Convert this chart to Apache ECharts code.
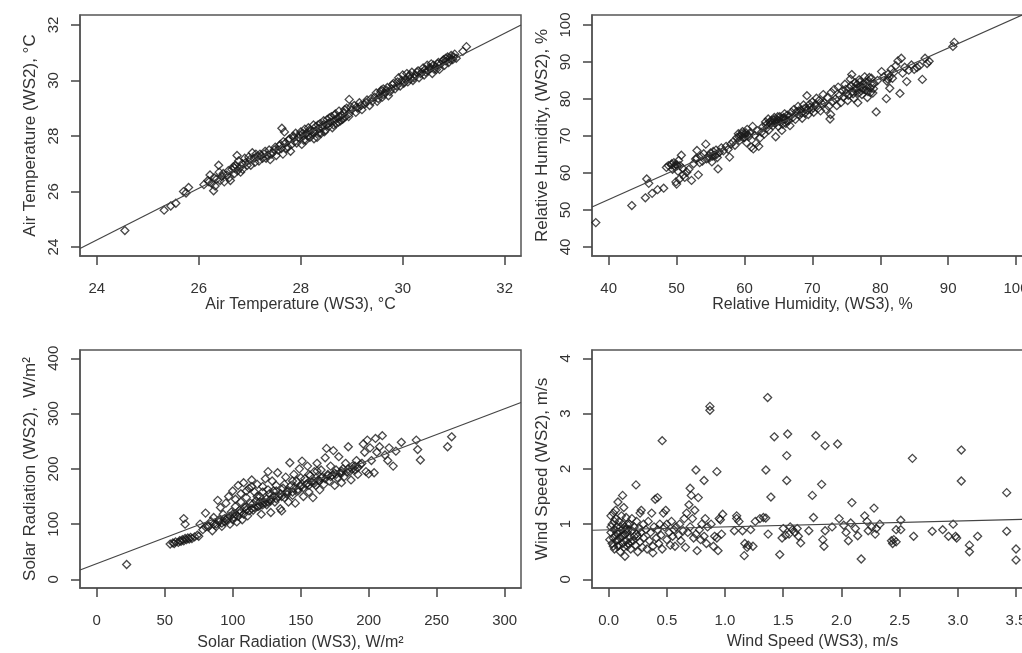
<!DOCTYPE html>
<html>
<head>
<meta charset="utf-8">
<script src="https://cdn.jsdelivr.net/npm/echarts@6/dist/echarts.min.js"></script>
<style>
  html, body { margin: 0; padding: 0; background: #fff; overflow: hidden; }
  #chart { width: 1022px; height: 653px; }
</style>
</head>
<body>
<div id="chart"></div>
<script>
// WS3 (x) vs WS2 (y) readings
var tempPoints = [
  [24.55,24.60],[25.32,25.33],[25.45,25.48],[25.55,25.58],[25.70,26.00],[25.80,26.15],[25.75,25.95],
  [26.10,26.25],[26.18,26.40],[26.22,26.60],[26.25,26.30],[26.29,26.03],[26.30,26.50],[26.35,26.45],[26.39,26.95],
  [26.40,26.70],[26.45,26.55],[26.50,26.35],[26.55,26.60],[26.60,26.50],[26.65,26.80],[26.68,26.90],[26.70,26.65],
  [26.72,26.95],[26.75,27.30],[26.78,27.10],[26.80,26.85],[26.82,26.70],[26.85,27.00],[26.90,27.20],[26.95,26.95],
  [27.00,27.15],[27.05,27.40],[27.10,27.05],[27.15,27.25],[27.20,27.35],[27.25,27.20],[27.30,27.45],[27.35,27.30],
  [27.40,27.15],[27.45,27.40],[27.50,27.60],[27.55,27.50],[27.60,27.70],[27.63,28.28],[27.68,28.15],[27.65,27.35],
  [27.70,27.75],[27.75,27.60],[27.78,27.90],[27.80,27.45],[27.85,28.00],[27.88,27.80],[27.90,28.10],[27.95,27.95],
  [28.00,28.15],[28.02,27.70],[28.05,28.00],[28.08,28.25],[28.10,27.85],[28.12,28.10],[28.15,28.30],[28.18,27.95],
  [28.20,28.20],[28.22,28.05],[28.25,28.40],[28.28,28.15],[28.30,28.35],[28.32,27.95],[28.35,28.25],[28.38,28.45],
  [28.40,28.10],[28.42,28.30],[28.45,28.55],[28.48,28.20],[28.50,28.40],[28.52,28.60],[28.55,28.35],[28.58,28.50],
  [28.60,28.70],[28.62,28.30],[28.65,28.55],[28.68,28.80],[28.70,28.45],[28.72,28.65],[28.75,28.90],[28.78,28.55],
  [28.80,28.75],[28.82,28.60],[28.85,28.85],[28.88,28.70],[28.90,29.00],[28.95,29.32],[28.95,28.80],[29.00,28.95],
  [29.05,29.10],[29.08,28.85],[29.10,29.05],[29.15,29.20],[29.20,28.95],[29.25,29.15],[29.30,29.30],[29.35,29.10],
  [29.40,29.25],[29.45,29.40],[29.50,29.25],[29.55,29.50],[29.58,29.65],[29.60,29.40],[29.62,29.70],[29.65,29.55],
  [29.70,29.75],[29.72,29.45],[29.75,29.60],[29.80,29.85],[29.85,29.70],[29.90,29.95],[29.92,30.10],[29.95,29.80],
  [30.00,30.20],[30.02,29.90],[30.05,30.05],[30.08,30.25],[30.10,29.95],[30.12,30.15],[30.15,30.05],[30.18,30.30],
  [30.20,30.00],[30.25,30.20],[30.30,30.35],[30.32,30.10],[30.35,30.25],[30.40,30.45],[30.42,30.20],[30.45,30.30],
  [30.48,30.55],[30.50,30.35],[30.55,30.45],[30.58,30.25],[30.60,30.55],[30.62,30.40],[30.65,30.50],[30.70,30.65],
  [30.72,30.40],[30.75,30.60],[30.80,30.75],[30.82,30.55],[30.85,30.70],[30.88,30.85],[30.90,30.65],[30.92,30.80],
  [30.95,30.90],[30.98,30.75],[31.00,30.85],[31.05,30.80],[31.25,31.22],[31.18,31.05],
  [26.20,26.35],[26.32,26.20],[26.42,26.40],[26.48,26.65],[26.58,26.75],[26.62,26.40],[26.70,26.85],[26.76,26.75],
  [26.86,26.80],[26.92,27.05],[26.98,27.25],[27.02,26.95],[27.08,27.20],[27.12,27.35],[27.18,27.10],[27.22,27.30],
  [27.28,27.35],[27.32,27.20],[27.38,27.50],[27.42,27.35],[27.48,27.50],[27.52,27.30],[27.58,27.65],[27.62,27.55],
  [27.66,27.80],[27.72,27.55],[27.76,27.85],[27.82,27.70],[27.86,27.95],[27.92,27.75],[27.98,28.05],[28.04,28.10],
  [28.06,27.85],[28.14,28.00],[28.16,28.20],[28.24,28.15],[28.26,27.90],[28.34,28.40],[28.36,28.10],[28.44,28.40],
  [28.46,28.15],[28.54,28.45],[28.56,28.65],[28.64,28.40],[28.66,28.75],[28.74,28.50],[28.76,28.70],[28.84,28.65],
  [28.86,28.95],[28.94,28.70],[28.98,29.05],[29.12,29.00],[29.18,29.10],[29.28,29.20],[29.38,29.35],[29.48,29.55],
  [29.52,29.35],[29.57,29.60],[29.63,29.50],[29.68,29.65],[29.78,29.70],[29.82,29.90],[29.88,29.80],[29.98,30.00],
  [30.04,29.95],[30.14,30.20],[30.22,30.10],[30.28,30.30],[30.38,30.30],[30.44,30.40],[30.52,30.45],[30.56,30.60],
  [30.66,30.40],[30.68,30.60],[30.78,30.70],[30.84,30.80],[30.94,30.75],[31.02,30.95]
];
var humPoints = [
  [38.1,46.6],[43.4,51.2],[45.4,53.3],[45.6,58.4],[46.4,54.5],[47.2,55.5],[48.1,55.9],[45.9,57.2],
  [48.5,61.5],[48.8,62.0],[49.2,62.2],[49.4,61.0],[49.6,62.8],[49.8,61.6],[50.0,62.3],[50.2,60.5],[50.3,63.4],
  [50.5,62.0],[50.7,64.8],[50.9,61.2],[51.0,59.5],[49.9,57.6],[50.0,57.0],[50.4,58.3],[51.2,58.8],[51.5,60.2],
  [51.8,61.0],[52.2,58.0],[52.5,62.5],[52.8,63.8],[53.0,66.1],[53.0,64.0],[53.2,59.5],[53.4,62.8],[53.6,64.5],
  [53.8,63.2],[54.0,65.2],[54.3,67.8],[54.4,63.8],[54.7,64.6],[55.0,65.4],[55.2,63.0],[55.4,65.8],[55.6,64.8],
  [55.8,66.2],[56.0,64.2],[56.1,61.1],[56.3,65.6],[56.6,66.8],[56.9,66.0],[57.3,67.2],[57.6,66.4],[57.8,64.3],
  [58.0,67.8],[58.3,68.4],[58.6,67.5],[58.9,69.6],[59.1,70.6],[59.3,68.8],[59.5,70.0],[59.7,71.2],[59.9,69.5],
  [60.1,70.4],[60.3,68.2],[60.4,71.8],[60.6,69.8],[60.8,70.8],[61.0,67.0],[61.2,72.6],[61.3,66.5],[61.5,70.2],
  [61.7,68.0],[61.9,71.4],[62.1,67.2],[62.3,69.5],[62.5,71.0],[62.7,72.5],[62.9,70.5],[63.1,73.8],[63.3,72.2],
  [63.5,74.6],[63.6,71.6],[63.8,73.2],[64.0,74.2],[64.2,72.8],[64.4,75.0],[64.5,73.5],[64.6,69.8],[64.8,74.4],
  [65.0,72.6],[65.2,75.2],[65.4,73.8],[65.5,71.5],[65.7,74.8],[65.9,76.0],[66.1,73.4],[66.3,75.6],[66.5,74.2],
  [66.7,72.8],[66.9,76.4],[67.1,75.0],[67.3,77.2],[67.5,74.5],[67.7,76.6],[67.9,78.0],[68.1,75.6],[68.3,77.0],
  [68.5,74.8],[68.7,78.4],[68.9,76.2],[69.1,77.6],[69.2,80.9],[69.4,75.8],[69.6,78.6],[69.8,77.0],[70.0,79.2],
  [70.2,76.4],[70.4,78.2],[70.6,80.2],[70.8,77.4],[71.0,79.6],[71.2,76.8],[71.4,78.8],[71.6,81.2],[71.8,79.0],
  [72.0,77.2],[72.2,80.4],[72.4,78.0],[72.6,74.6],[72.7,75.8],[72.8,81.8],[73.0,79.4],[73.2,82.6],[73.4,80.0],
  [73.6,78.2],[73.8,83.2],[74.0,81.0],[74.2,79.0],[74.4,82.2],[74.6,80.6],[74.8,84.0],[75.0,81.6],[75.2,79.6],
  [75.4,83.0],[75.6,85.4],[75.8,86.6],[75.9,82.0],[76.1,80.2],[76.3,84.4],[76.5,82.8],[76.7,79.0],[76.9,85.2],
  [77.1,83.4],[77.3,81.2],[77.5,84.0],[77.7,86.0],[77.9,82.4],[78.1,80.4],[78.3,84.8],[78.5,83.0],[78.7,85.6],
  [78.9,81.6],[79.1,84.2],[79.4,76.5],[79.6,85.0],[80.2,87.4],[80.5,86.0],[80.9,80.1],[81.0,84.8],[81.2,86.8],
  [81.4,82.9],[81.6,88.0],[81.8,85.6],[82.0,87.2],[82.3,89.0],[82.6,90.3],[82.9,81.5],[83.1,91.0],[83.3,87.0],
  [83.6,88.6],[83.9,84.7],[84.2,87.8],[84.6,89.2],[85.0,88.0],[85.4,88.5],[85.8,89.0],[86.2,85.3],[86.6,91.0],
  [86.9,89.6],[87.2,90.2],[90.7,94.2],[90.9,95.3],
  [49.3,62.5],[49.7,61.9],[50.1,62.0],[54.8,64.0],[55.3,64.6],[55.9,65.0],[59.2,69.8],[59.6,70.6],[60.0,69.6],
  [60.2,70.9],[60.5,70.2],[63.2,73.0],[63.7,73.8],[64.1,73.6],[64.3,74.4],[64.7,73.8],[64.9,75.2],[65.1,74.0],
  [65.3,74.6],[65.6,73.2],[65.8,75.0],[66.0,74.6],[66.2,74.0],[66.6,75.4],[68.0,76.8],[68.4,76.2],[68.8,77.4],
  [69.3,77.0],[69.7,77.8],[70.1,77.6],[70.5,78.6],[74.9,82.6],[75.3,81.0],[75.7,83.6],[76.0,81.4],[76.2,83.0],
  [76.4,82.2],[76.6,84.0],[76.8,81.6],[77.0,84.6],[77.2,82.2],[77.4,83.0],[77.6,82.6],[77.8,84.6],[78.0,83.6],
  [78.2,82.0],[78.4,85.8],[78.6,81.8],[78.8,83.8],[79.0,82.8],[81.1,85.4],[81.3,85.9]
];
var solarPoints = [
  [22,27],[54,64],[56,66],[57,65],[58,68],[60,67],[61,70],[62,69],[63,72],[64,70],[65,74],[66,72],[67,75],
  [68,73],[69,76],[70,74],[72,77],[74,80],[75,78],[64,110],[65,100],[76,100],[78,90],[80,95],
  [80,120],[82,98],[84,105],[85,88],[86,112],[88,100],[89,143],[90,108],[91,130],[92,96],[93,118],[94,104],
  [95,138],[96,110],[97,150],[98,100],[99,122],[100,160],[82,95],[86,100],[90,104],[94,110],[98,114],[102,118],
  [106,122],[110,126],[114,128],[118,132],[122,135],[126,140],
  [101,112],[102,145],[103,104],[104,170],[105,120],[106,155],[107,108],[108,175],[109,130],[110,148],[111,115],
  [112,165],[113,138],[114,180],[115,125],[116,158],[117,142],[118,172],[119,132],[120,150],[121,118],[122,168],
  [123,140],[124,182],[125,135],[126,195],[127,155],[128,145],[128,121],[129,178],[130,160],[131,140],[132,170],
  [133,193],[134,150],[135,128],[136,124],[137,165],[138,148],[139,185],[140,158],
  [100,118],[105,125],[110,132],[115,137],[120,140],[125,146],[130,150],[135,155],[140,160],[145,165],[150,170],
  [155,174],[160,178],[165,184],[170,188],[175,192],[180,196],[185,200],[190,205],[195,210],
  [141,140],[142,211],[143,170],[144,152],[145,190],[146,138],[147,178],[148,160],[149,200],[150,168],[151,214],
  [152,150],[153,182],[154,172],[155,205],[156,158],[157,188],[158,176],[159,148],[160,195],[161,170],[162,210],
  [163,180],[164,162],[165,198],[166,185],[167,172],[168,220],[169,237],[170,190],[171,178],[172,205],[173,188],
  [174,233],[175,170],[176,198],[177,184],[178,222],[179,192],[180,175],
  [181,200],[182,186],[183,210],[185,240],[186,195],[187,180],[188,205],[190,198],[191,215],[192,190],[194,208],
  [196,245],[197,230],[198,195],[199,252],[200,191],[201,238],[202,215],[204,193],[205,255],[206,230],[208,240],
  [210,260],[212,225],[214,215],[215,238],[218,205],[220,232],[224,248],[235,252],[236,235],[238,216],[258,240],
  [261,258],
  [88,96],[92,102],[96,106],[100,108],[104,114],[108,118],[112,124],[116,130],[120,134],[124,138],[128,142],
  [132,146],[136,150],[140,154],[144,158],[148,163],[152,166],[156,170],[160,174],[164,178],[168,182],[172,186],
  [176,190],[180,192],[184,194],[188,200],[192,202],[118,150],[122,158],[126,162],[132,160],[138,172],[144,178],
  [150,184],[156,190],[162,196],[110,160],[114,168],[106,140],[102,132]
];
var windPoints = [
  [0.02,0.85],[0.03,0.65],[0.03,1.0],[0.04,0.75],[0.04,1.2],[0.05,0.9],[0.05,0.55],[0.06,0.8],[0.06,1.1],
  [0.07,0.7],[0.07,0.95],[0.08,0.6],[0.08,1.4],[0.09,0.85],[0.09,1.05],[0.10,0.75],[0.10,0.5],[0.11,0.9],
  [0.11,1.15],[0.12,0.65],[0.12,1.0],[0.13,0.8],[0.13,1.3],[0.14,0.42],[0.14,0.95],[0.15,0.7],[0.15,1.12],
  [0.16,0.85],[0.16,0.6],[0.17,0.9],[0.18,1.0],[0.18,0.75],[0.19,0.55],[0.20,0.88],[0.20,1.1],[0.21,0.7],
  [0.22,0.95],[0.23,0.62],[0.24,0.82],[0.24,1.05],[0.25,0.5],[0.25,0.78],[0.26,0.92],[0.27,1.2],[0.27,0.68],
  [0.28,1.25],[0.28,0.85],[0.29,0.58],[0.30,1.0],[0.30,0.75],[0.12,1.52],[0.235,1.71],[0.06,1.25],[0.02,1.15],
  [0.04,0.6],[0.08,0.72],[0.10,0.95],[0.14,0.82],[0.19,0.68],[0.22,0.78],[0.01,0.72],[0.02,0.95],[0.07,0.85],
  [0.09,0.62],[0.11,0.78],[0.13,0.58],[0.15,0.9],[0.17,0.65],[0.05,1.05],[0.16,1.0],
  [0.32,0.9],[0.33,0.55],[0.34,1.05],[0.35,0.7],[0.36,0.85],[0.37,1.2],[0.38,0.6],[0.38,0.48],[0.39,0.95],
  [0.40,1.45],[0.41,0.75],[0.42,1.48],[0.42,0.9],[0.43,0.65],[0.44,1.0],[0.45,0.8],[0.46,2.51],[0.46,0.55],
  [0.47,1.2],[0.48,0.95],[0.49,1.25],[0.50,0.72],[0.50,1.0],[0.52,0.85],[0.53,0.62],[0.54,1.05],[0.55,0.78],
  [0.56,0.9],[0.57,0.6],[0.58,0.95],[0.60,0.8],[0.61,1.0],[0.62,0.7],[0.64,0.88],[0.65,1.1],[0.66,0.58],
  [0.67,1.2],[0.68,0.85],[0.69,1.35],[0.70,1.65],[0.70,0.95],[0.71,1.52],[0.72,1.1],[0.73,0.75],[0.74,1.25],
  [0.75,1.98],[0.75,0.82],[0.76,0.52],[0.77,1.48],[0.78,0.9],[0.79,0.72],[0.80,1.0],[0.82,1.79],[0.82,0.78],
  [0.83,1.1],[0.84,0.65],[0.85,0.95],[0.87,3.13],[0.87,3.06],[0.88,1.0],[0.90,0.6],[0.91,0.78],[0.93,1.95],
  [0.93,0.75],[0.94,0.52],[0.95,1.1],[0.96,1.08],[0.97,0.82],[0.98,1.18],
  [1.08,0.88],[1.10,1.15],[1.10,1.1],[1.12,1.05],[1.15,0.88],[1.17,0.65],[1.165,0.43],[1.19,0.58],[1.20,0.62],
  [1.22,0.9],[1.24,0.6],[1.26,1.05],[1.30,1.1],[1.33,1.12],[1.35,1.11],[1.351,1.98],[1.366,3.29],[1.37,0.82],
  [1.394,1.49],[1.423,2.58],[1.47,0.45],[1.49,0.75],[1.50,0.92],[1.53,2.24],[1.53,1.79],[1.538,2.63],[1.55,0.82],
  [1.58,0.9],[1.60,0.85],[1.62,0.92],[1.65,0.66],[1.72,0.88],[1.75,1.52],[1.76,1.12],[1.78,2.60],[1.83,1.72],
  [1.84,0.72],[1.85,0.60],[1.86,2.42],[1.86,0.88],[1.92,0.95],[1.967,2.45],[1.98,1.1],[1.52,0.8],[1.56,0.95],
  [1.63,0.78],
  [2.02,0.98],[2.04,0.85],[2.06,0.7],[2.08,1.02],[2.09,1.39],[2.12,0.92],[2.14,0.79],[2.17,0.37],[2.20,1.15],
  [2.22,1.05],[2.23,0.88],[2.26,0.95],[2.28,1.29],[2.29,0.82],[2.30,0.92],[2.33,1.0],[2.43,0.7],[2.44,0.65],
  [2.45,0.72],[2.47,0.68],[2.47,0.9],[2.51,1.07],[2.51,0.9],[2.61,2.19],[2.62,0.78],[2.78,0.87],[2.87,0.9],
  [2.92,0.78],[2.96,1.0],[2.98,0.78],[2.99,0.75],[3.03,2.34],[3.03,1.78],[3.10,0.62],[3.10,0.50],[3.17,0.78],
  [3.42,1.57],[3.42,0.87],[3.50,0.55],[3.50,0.35]
];

// fitted lines, endpoints read at the plot edges
var tempFit = [[23.67,23.95],[32.32,32.0]];
var humFit = [[37.54,50.8],[100.9,102.7]];
var solarFit = [[-12.3,17],[312,320]];
var windFit = [[-0.143,0.89],[3.646,1.09]];

// tick labels
var tempTicks = [24, 26, 28, 30, 32];
var humXTicks = [40, 50, 60, 70, 80, 90, 100];
var humYTicks = [40, 50, 60, 70, 80, 90, 100];
var solarXTicks = [0, 50, 100, 150, 200, 250, 300];
var solarYTicks = [0, 100, 200, 300, 400];
var windXTicks = [0, 0.5, 1, 1.5, 2, 2.5, 3, 3.5];
var windYTicks = [0, 1, 2, 3, 4];

var FONT = 'Liberation Sans';
var TXT = '#333';
var LINE = '#555';

function tickStyle(ticks) {
  return { show: true, length: 9, customValues: ticks, lineStyle: { color: '#444', width: 1.5 } };
}
function xAxis(grid, min, max, ticks, name, gap, fmt) {
  var a = {
    type: 'value', gridIndex: grid, min: min, max: max,
    name: name, nameLocation: 'middle', nameGap: gap,
    nameTextStyle: { fontFamily: FONT, fontSize: 16, color: TXT },
    axisLine: { show: true, onZero: false, lineStyle: { color: LINE, width: 1.5 } },
    axisTick: tickStyle(ticks),
    axisLabel: { customValues: ticks, margin: 25, fontFamily: FONT, fontSize: 15, color: TXT },
    splitLine: { show: false }
  };
  if (fmt) a.axisLabel.formatter = fmt;
  return a;
}
function yAxis(grid, min, max, ticks, name, gap) {
  return {
    type: 'value', gridIndex: grid, min: min, max: max,
    name: name, nameLocation: 'middle', nameGap: gap,
    nameTextStyle: { fontFamily: FONT, fontSize: 17, color: TXT },
    axisLine: { show: true, onZero: false, lineStyle: { color: LINE, width: 1.5 } },
    axisTick: tickStyle(ticks),
    axisLabel: { customValues: ticks, rotate: 90, margin: 19, fontFamily: FONT, fontSize: 15, color: TXT },
    splitLine: { show: false }
  };
}
function pts(idx, data) {
  return {
    type: 'scatter', xAxisIndex: idx, yAxisIndex: idx, data: data,
    symbol: 'diamond', symbolSize: 8, silent: true,
    itemStyle: { color: 'rgba(0,0,0,0)', borderColor: '#1a1a1a', borderWidth: 1.3 }
  };
}
function fit(idx, data) {
  return {
    type: 'line', xAxisIndex: idx, yAxisIndex: idx, data: data,
    symbol: 'none', silent: true, z: 3, clip: true,
    lineStyle: { color: '#444', width: 1.2 }
  };
}
function box(left, top, height) {
  return {
    left: left, top: top, width: 441, height: height, outerBoundsMode: 'none',
    show: true, borderColor: LINE, borderWidth: 1.5
  };
}

var myChart = echarts.init(document.getElementById('chart'));
var option = {
  animation: false,
  backgroundColor: '#fff',
  grid: [box(80, 15, 241), box(592, 15, 241), box(80, 350, 238), box(592, 350, 238)],
  xAxis: [
    xAxis(0, 23.67, 32.32, tempTicks, 'Air Temperature (WS3), °C', 40),
    xAxis(1, 37.54, 102.5, humXTicks, 'Relative Humidity, (WS3), %', 40),
    xAxis(2, -12.3, 312, solarXTicks, 'Solar Radiation (WS3), W/m²', 47),
    xAxis(3, -0.143, 3.646, windXTicks, 'Wind Speed (WS3), m/s', 46, function (v) { return v.toFixed(1); })
  ],
  yAxis: [
    yAxis(0, 23.68, 32.36, tempTicks, 'Air Temperature (WS2), °C', 41),
    yAxis(1, 37.57, 102.7, humYTicks, 'Relative Humidity, (WS2), %', 41),
    yAxis(2, -15.5, 415, solarYTicks, 'Solar Radiation (WS2),  W/m²', 41),
    yAxis(3, -0.155, 4.15, windYTicks, 'Wind Speed (WS2), m/s', 41)
  ],
  series: [
    pts(0, tempPoints), fit(0, tempFit),
    pts(1, humPoints), fit(1, humFit),
    pts(2, solarPoints), fit(2, solarFit),
    pts(3, windPoints), fit(3, windFit)
  ]
};
myChart.setOption(option);
</script>
</body>
</html>
